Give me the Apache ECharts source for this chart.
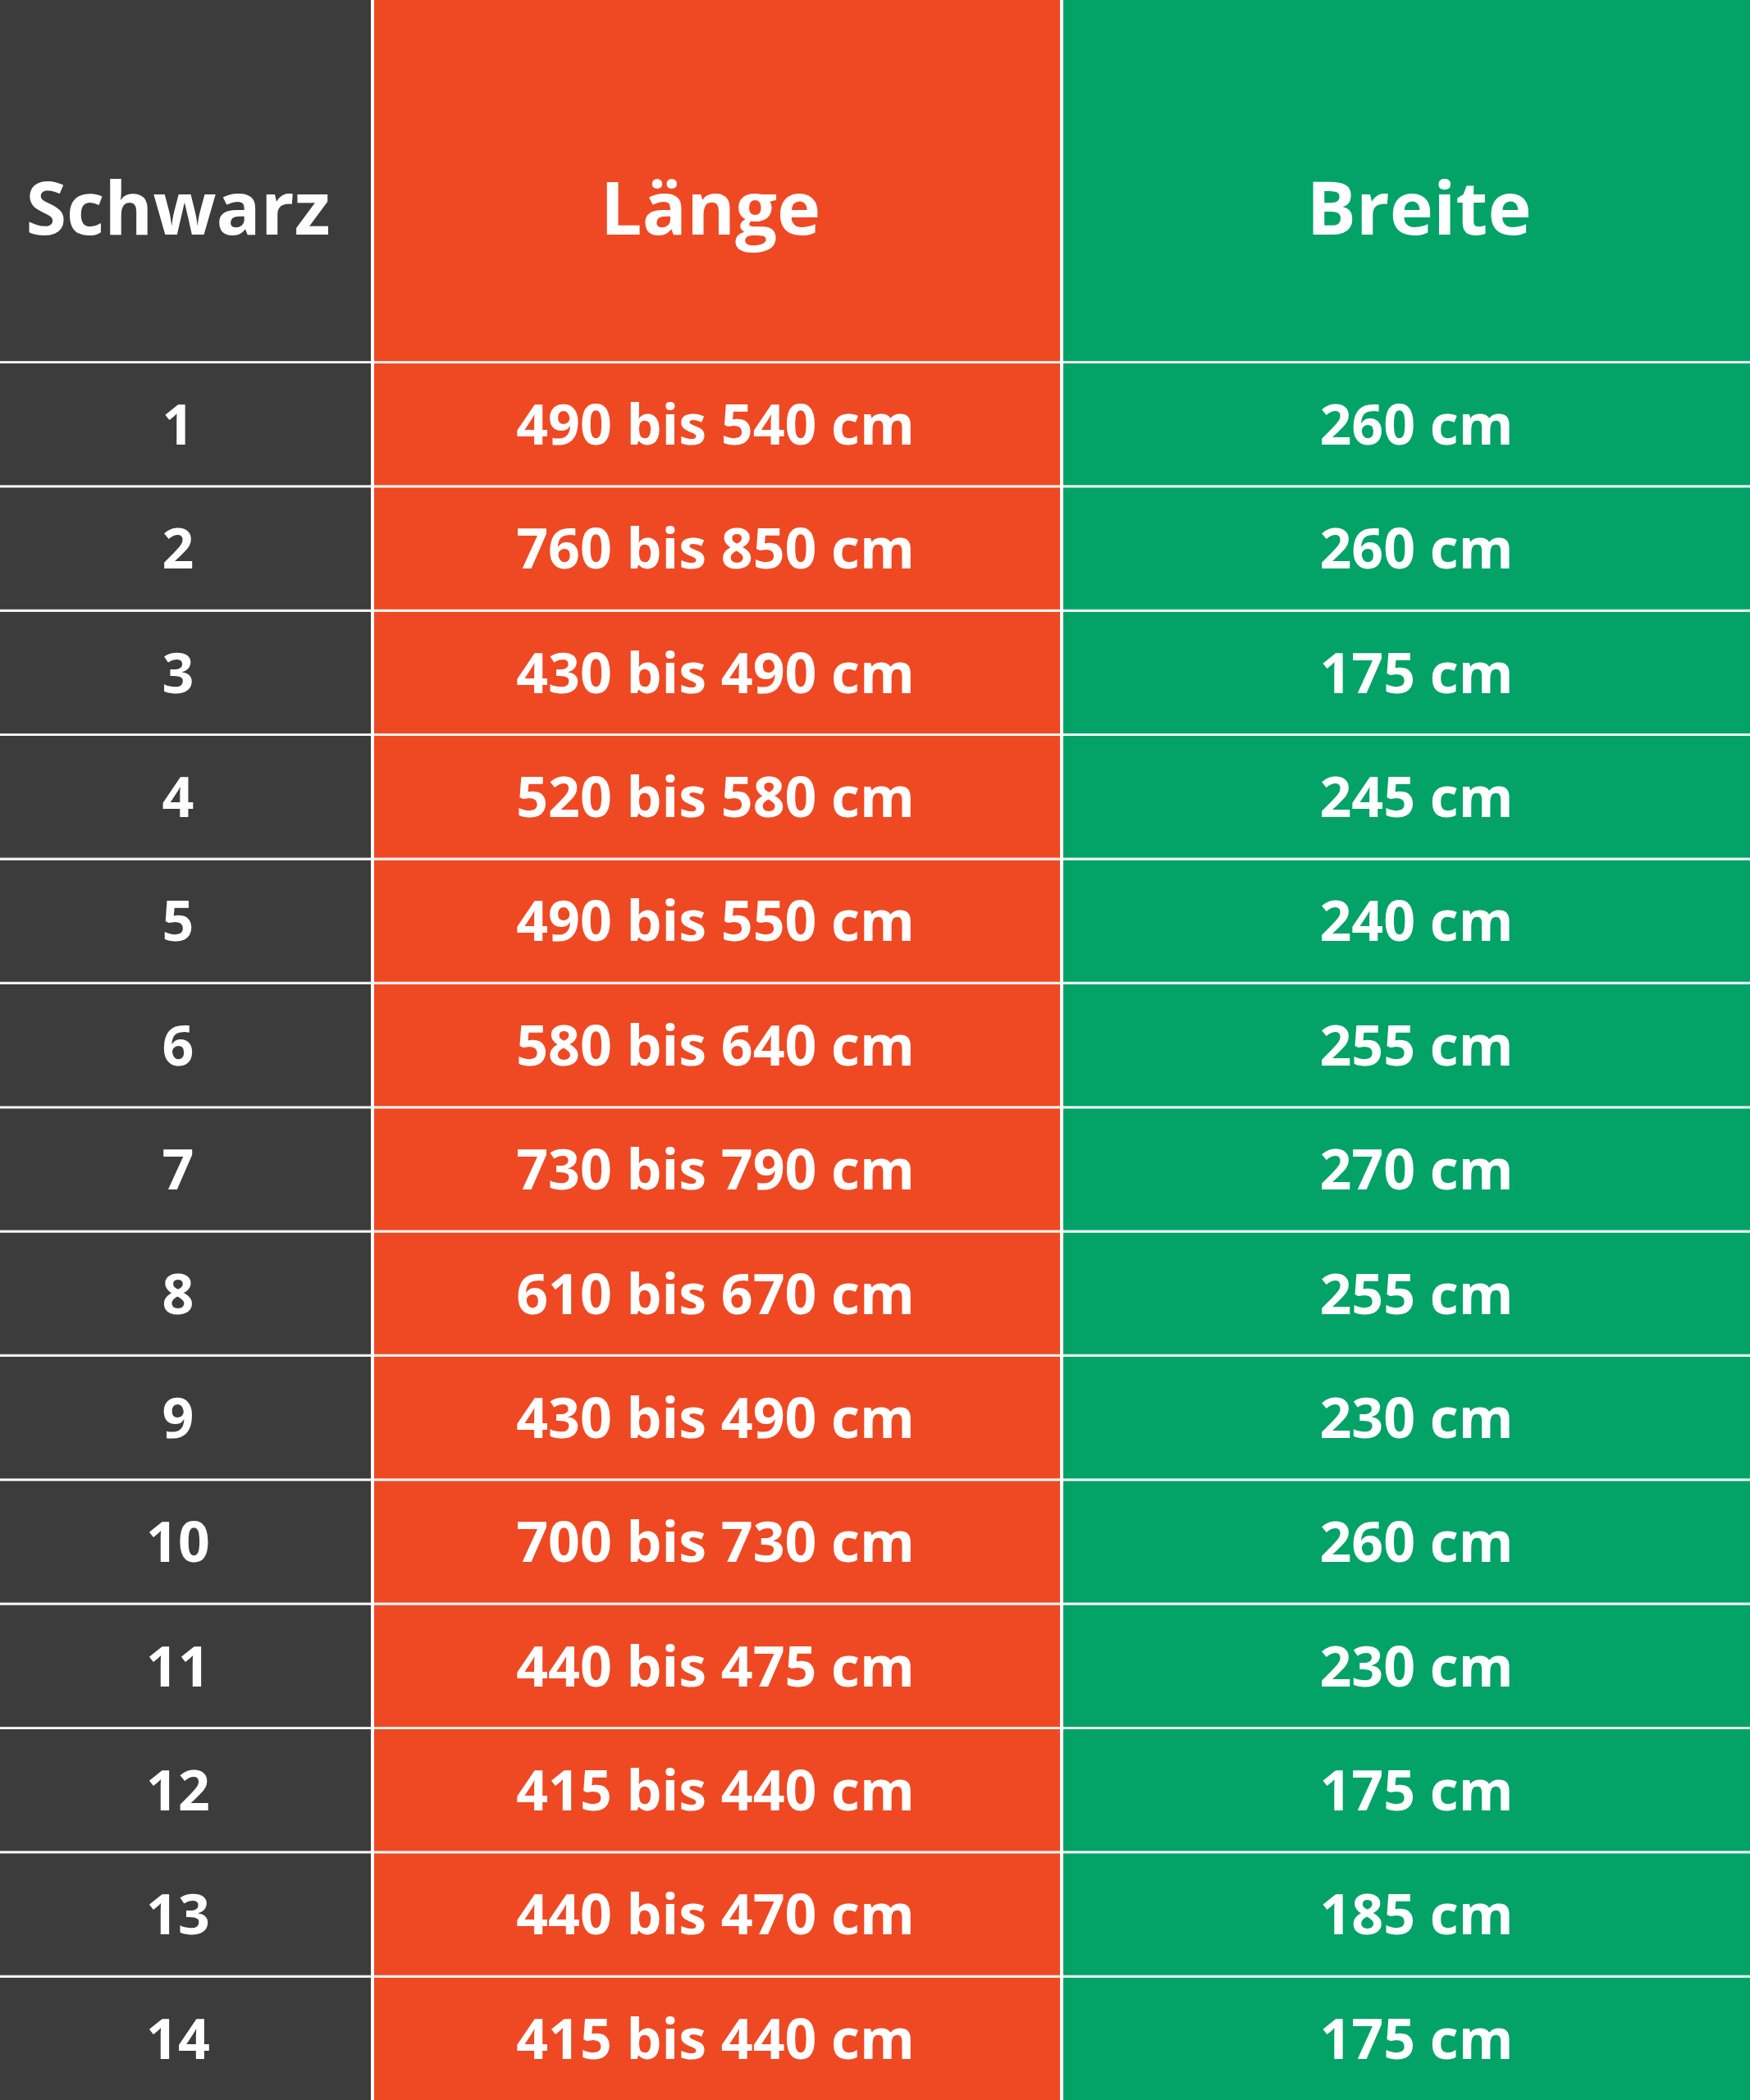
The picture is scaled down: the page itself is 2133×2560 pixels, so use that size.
<!DOCTYPE html>
<html><head><meta charset="utf-8">
<script src="https://cdn.jsdelivr.net/npm/echarts@6/dist/echarts.min.js"></script>
<style>html,body{margin:0;padding:0;background:#fff}#c{width:2133px;height:2560px}</style>
</head><body><div id="c"></div>
<script>
const headers = ['Schwarz', 'Länge', 'Breite'];
const rowLabels = ['1','2','3','4','5','6','7','8','9','10','11','12','13','14'];
const laenge = ['490 bis 540 cm','760 bis 850 cm','430 bis 490 cm','520 bis 580 cm','490 bis 550 cm','580 bis 640 cm','730 bis 790 cm','610 bis 670 cm','430 bis 490 cm','700 bis 730 cm','440 bis 475 cm','415 bis 440 cm','440 bis 470 cm','415 bis 440 cm'];
const breite = ['260 cm','260 cm','175 cm','245 cm','240 cm','255 cm','270 cm','255 cm','230 cm','260 cm','230 cm','175 cm','185 cm','175 cm'];

const colEdges = [0, 454, 1294, 2133];
const colColors = ['#3c3c3c', '#ef4923', '#03a367'];
const headerShift = [-10, -8, 16];
const cellShift = [-10, -2, 13];
const headerH = 441;
const font = '"Open Sans", "Noto Sans", sans-serif';

const data = [];
rowLabels.forEach((r, i) => {
  data.push([i, 0, r]);
  data.push([i, 1, laenge[i]]);
  data.push([i, 2, breite[i]]);
});

const chart = echarts.init(document.getElementById('c'));
const graphics = headers.map((h, j) => ({
  type: 'group',
  children: [
    { type: 'rect', shape: { x: colEdges[j] + (j ? 2 : 0), y: 0, width: colEdges[j+1] - colEdges[j] - (j ? 2 : 0) - (j < 2 ? 2 : 0), height: headerH },
      style: { fill: colColors[j] } },
    { type: 'text', x: (colEdges[j] + colEdges[j+1]) / 2 + headerShift[j], y: 260,
      style: { text: h, fill: '#fff', font: 'bold 90px ' + font, align: 'center', verticalAlign: 'middle' } }
  ]
}));

chart.setOption({
  animation: false,
  backgroundColor: '#ffffff',
  grid: { left: 0, right: 0, top: headerH, bottom: 0 },
  xAxis: { type: 'value', min: 0, max: 2133, show: false },
  yAxis: { type: 'category', data: rowLabels, inverse: true, show: false },
  graphic: graphics,
  series: [{
    type: 'custom',
    data: data,
    renderItem: function (params, api) {
      const row = api.value(0), col = api.value(1);
      const text = data[params.dataIndex][2];
      const c = api.coord([0, row]);
      const h = api.size([0, 1])[1];
      const x0 = api.coord([colEdges[col], row])[0];
      const x1 = api.coord([colEdges[col+1], row])[0];
      const top = c[1] - h / 2;
      const l = x0 + (col ? 2 : 0), r = x1 - (col < 2 ? 2 : 0);
      return {
        type: 'group',
        children: [
          { type: 'rect', shape: { x: l, y: top + 2, width: r - l, height: h - 2 }, style: { fill: colColors[col] } },
          { type: 'rect', shape: { x: l, y: top - 1, width: r - l, height: 3 }, style: { fill: 'rgba(255,255,255,0.8)' } },
          { type: 'text', x: (x0 + x1) / 2 + cellShift[col], y: c[1] + 6,
            style: { text: text, fill: '#fff', font: 'bold 68px ' + font, align: 'center', verticalAlign: 'middle' } }
        ]
      };
    }
  }]
});
</script></body></html>
